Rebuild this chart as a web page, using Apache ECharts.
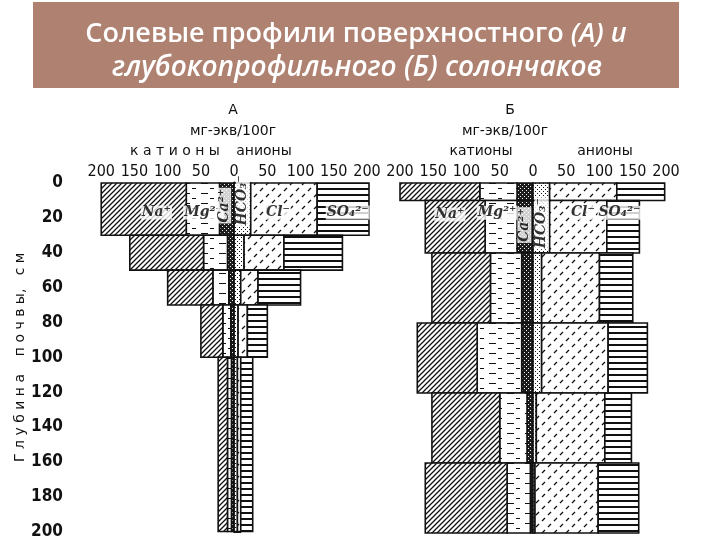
<!DOCTYPE html>
<html>
<head>
<meta charset="utf-8">
<script src="https://cdn.jsdelivr.net/npm/echarts@6/dist/echarts.min.js"></script>
<style>
  html, body { margin: 0; padding: 0; background: #fff; }
  #chart { width: 720px; height: 540px; }
</style>
</head>
<body>
<div id="chart"></div>
<script>
// глубина слоёв (см) и содержание ионов, мг-экв/100г
const depthsA = [0, 30, 50, 70, 100, 200];
const caA   = [22, 10, 8, 5, 4];
const mgA   = [50, 36, 24, 12, 6];
const naA   = [128, 111, 68, 33, 14];
const hco3A = [25, 15, 10, 6, 5];
const clA   = [100, 60, 26, 14, 5];
const so4A  = [78, 88, 64, 30, 18];

const depthsB = [0, 10, 40, 80, 120, 160, 200];
const caB   = [24, 24, 17, 17, 9, 4];
const mgB   = [56, 48, 47, 67, 41, 35];
const naB   = [120, 90, 88, 90, 102, 123];
const hco3B = [25, 25, 13, 13, 5, 3];
const clB   = [101, 86, 87, 100, 103, 95];
const so4B  = [72, 49, 50, 59, 40, 61];

const xTicks = [-200, -150, -100, -50, 0, 50, 100, 150, 200];
const depthTicks = [0, 20, 40, 60, 80, 100, 120, 140, 160, 180, 200];

// подписи ионов: [x, глубина, текст, поворот]
const ionLabelsA = [
  [-117, 17, 'Na⁺', 0], [-46, 17, 'Mg²⁺', 0], [-15, 13, 'Ca²⁺', 90],
  [13, 10, 'HCO₃⁻', 90], [66, 17, 'Cl⁻', 0], [171, 17, 'SO₄²⁻', 0]
];
const ionLabelsB = [
  [-125, 18, 'Na⁺', 0], [-54, 17, 'Mg²⁺', 0], [-13, 24, 'Ca²⁺', 90],
  [13, 23, 'HCO₃⁻', 90], [75, 17, 'Cl⁻', 0], [130, 17, 'SO₄²⁻', 0]
];

// штриховки
function tile(w, h, bg, draw) {
  const c = document.createElement('canvas');
  c.width = w; c.height = h;
  const ctx = c.getContext('2d');
  ctx.fillStyle = bg;
  ctx.fillRect(0, 0, w, h);
  ctx.strokeStyle = '#111';
  ctx.fillStyle = '#111';
  draw(ctx);
  return { image: c, repeat: 'repeat' };
}
const patterns = {
  na: tile(5, 5, '#fff', ctx => {
    ctx.lineWidth = 1.3;
    ctx.beginPath();
    ctx.moveTo(0, 5); ctx.lineTo(5, 0);
    ctx.moveTo(-1, 1); ctx.lineTo(1, -1);
    ctx.moveTo(4, 6); ctx.lineTo(6, 4);
    ctx.stroke();
  }),
  mg: tile(18, 10, '#fff', ctx => {
    ctx.fillRect(3, 3, 7, 1);
    ctx.fillRect(12, 8, 4, 1);
  }),
  ca: tile(4, 4, '#1c1c1c', ctx => {
    ctx.fillStyle = '#eee';
    ctx.fillRect(0, 0, 1, 1);
    ctx.fillRect(2, 2, 1, 1);
  }),
  hco3: tile(4, 4, '#fff', ctx => {
    ctx.fillRect(1, 1, 1, 1);
    ctx.fillRect(3, 3, 1, 1);
  }),
  cl: tile(12, 12, '#fff', ctx => {
    ctx.lineWidth = 1.3;
    ctx.beginPath();
    ctx.moveTo(2, 5); ctx.lineTo(5, 2);
    ctx.moveTo(8, 11); ctx.lineTo(11, 8);
    ctx.stroke();
  }),
  so4: tile(8, 6, '#fff', ctx => {
    ctx.fillRect(0, 2, 8, 2);
  })
};

function buildRects(depths, ca, mg, na, hco3, cl, so4) {
  const out = [];
  for (let i = 0; i < depths.length - 1; i++) {
    const t = depths[i], b = depths[i + 1];
    let x = 0;
    [['ca', ca[i]], ['mg', mg[i]], ['na', na[i]]].forEach(([k, v]) => {
      out.push([t, b, -x - v, -x, k]);
      x += v;
    });
    x = 0;
    [['hco3', hco3[i]], ['cl', cl[i]], ['so4', so4[i]]].forEach(([k, v]) => {
      out.push([t, b, x, x + v, k]);
      x += v;
    });
  }
  return out;
}

function renderRect(params, api) {
  const p0 = api.coord([api.value(2), api.value(0)]);
  const p1 = api.coord([api.value(3), api.value(1)]);
  const key = ['ca', 'mg', 'na', 'hco3', 'cl', 'so4'][params.dataIndex % 6];
  return {
    type: 'rect',
    shape: { x: p0[0], y: p0[1], width: p1[0] - p0[0], height: p1[1] - p0[1] },
    style: { fill: patterns[key], stroke: '#111', lineWidth: 1.6 }
  };
}

function labelData(list) {
  return list.map(l => ({
    value: [l[0], l[1]],
    name: l[2],
    label: { rotate: l[3] }
  }));
}

const tickFont = "'Liberation Sans Narrow', 'DejaVu Sans Condensed', 'Liberation Sans', sans-serif";
const textFont = "'DejaVu Sans', sans-serif";
const ionLabel = {
  show: true,
  position: 'inside',
  formatter: p => p.name,
  fontFamily: "'DejaVu Serif', serif",
  fontStyle: 'italic',
  fontWeight: 'bold',
  fontSize: 14,
  color: '#000',
  textBorderWidth: 0,
  backgroundColor: '#fff',
  padding: [0, 1]
};

function note(x, y, text) {
  return {
    type: 'text', x: x, y: y,
    style: { text: text, fontSize: 14, fontFamily: textFont, fill: '#111', align: 'center', verticalAlign: 'middle' }
  };
}

const chart = echarts.init(document.getElementById('chart'), null, { renderer: 'canvas' });

chart.setOption({
  backgroundColor: '#fff',
  animation: false,
  graphic: [
    { type: 'rect', shape: { x: 33, y: 2, width: 646, height: 86 }, style: { fill: '#ae8170' }, z: 0 },
    {
      type: 'text', x: 356, y: 34,
      style: {
        text: '{n|Солевые профили поверхностного }{i|(А) и}',
        align: 'center', verticalAlign: 'middle',
        rich: {
          n: { fontFamily: "'Open Sans', sans-serif", fontSize: 27, fontWeight: 600, fill: '#fff' },
          i: { fontFamily: "'Open Sans', sans-serif", fontSize: 27, fontWeight: 600, fontStyle: 'italic', fill: '#fff' }
        }
      }
    },
    {
      type: 'text', x: 357, y: 68,
      style: {
        text: 'глубокопрофильного (Б) солончаков',
        align: 'center', verticalAlign: 'middle',
        fontFamily: "'Open Sans', sans-serif", fontSize: 28, fontWeight: 600,
        fontStyle: 'italic', fill: '#fff'
      }
    },
    note(233, 110, 'А'),
    note(233, 131, 'мг-экв/100г'),
    note(175, 151, 'к а т и о н ы'),
    note(264, 151, 'анионы'),
    note(510, 110, 'Б'),
    note(505, 131, 'мг-экв/100г'),
    note(481, 151, 'катионы'),
    note(605, 151, 'анионы')
  ],
  grid: [
    { left: 68, top: 183, width: 299, height: 350 },
    { left: 400, top: 183, width: 266, height: 350 }
  ],
  xAxis: [
    {
      gridIndex: 0, type: 'value', position: 'top', min: -250, max: 200, interval: 50,
      axisLine: { show: false }, axisTick: { show: false }, splitLine: { show: false },
      axisLabel: {
        margin: 3, fontSize: 16, fontFamily: tickFont, color: '#111',
        formatter: v => (xTicks.indexOf(v) >= 0 ? String(Math.abs(v)) : '')
      }
    },
    {
      gridIndex: 1, type: 'value', position: 'top', min: -200, max: 200, interval: 50,
      axisLine: { show: false }, axisTick: { show: false }, splitLine: { show: false },
      axisLabel: {
        margin: 3, fontSize: 16, fontFamily: tickFont, color: '#111',
        formatter: v => String(Math.abs(v))
      }
    }
  ],
  yAxis: [
    {
      gridIndex: 0, type: 'value', inverse: true, min: 0, max: 200, interval: 20,
      name: 'Г л у б и н а    п о ч в ы,   с м',
      nameLocation: 'middle', nameRotate: 90, nameGap: 40,
      nameTextStyle: { fontSize: 14, fontFamily: textFont, color: '#111' },
      axisLine: { show: true, lineStyle: { color: '#111', width: 3 } },
      axisTick: { show: true, inside: true, length: 7, lineStyle: { color: '#111', width: 2 } },
      splitLine: { show: false },
      axisLabel: {
        margin: 5, fontSize: 17, fontWeight: 'bold', fontFamily: tickFont, color: '#111',
        formatter: v => (depthTicks.indexOf(v) >= 0 ? String(v) : '')
      }
    },
    {
      gridIndex: 1, type: 'value', inverse: true, min: 0, max: 200, show: false
    }
  ],
  series: [
    {
      type: 'custom', xAxisIndex: 0, yAxisIndex: 0,
      data: buildRects(depthsA, caA, mgA, naA, hco3A, clA, so4A),
      encode: { x: [2, 3], y: [0, 1] },
      renderItem: renderRect
    },
    {
      type: 'custom', xAxisIndex: 1, yAxisIndex: 1,
      data: buildRects(depthsB, caB, mgB, naB, hco3B, clB, so4B),
      encode: { x: [2, 3], y: [0, 1] },
      renderItem: renderRect
    },
    {
      type: 'scatter', xAxisIndex: 0, yAxisIndex: 0, symbolSize: 0, z: 5,
      data: labelData(ionLabelsA), label: ionLabel
    },
    {
      type: 'scatter', xAxisIndex: 1, yAxisIndex: 1, symbolSize: 0, z: 5,
      data: labelData(ionLabelsB), label: ionLabel
    }
  ]
});
</script>
</body>
</html>
